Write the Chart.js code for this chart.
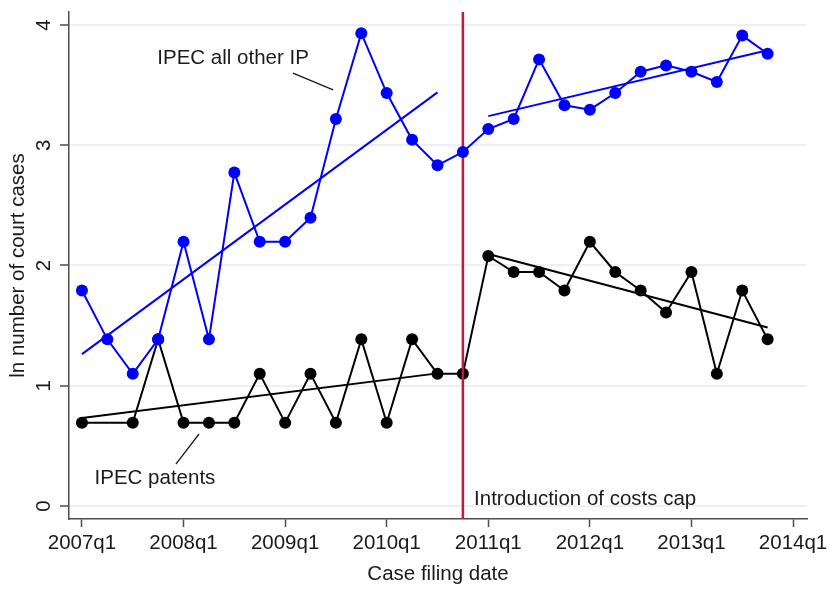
<!DOCTYPE html>
<html>
<head>
<meta charset="utf-8">
<script src="https://cdn.jsdelivr.net/npm/chart.js@4"></script>
<style>
  body { margin: 0; background: #fff; }
  #wrap { width: 832px; height: 589px; }
</style>
</head>
<body>
<div id="wrap"><canvas id="ipecChart" width="832" height="589"></canvas></div>
<script>
// quarters 2007q1 .. 2013q4 (x = 0 .. 27)
const quarters = ["2007q1","2007q2","2007q3","2007q4","2008q1","2008q2","2008q3","2008q4",
  "2009q1","2009q2","2009q3","2009q4","2010q1","2010q2","2010q3","2010q4",
  "2011q1","2011q2","2011q3","2011q4","2012q1","2012q2","2012q3","2012q4",
  "2013q1","2013q2","2013q3","2013q4"];
const tickLabels = ["2007q1","2008q1","2009q1","2010q1","2011q1","2012q1","2013q1","2014q1"];
const tickPositions = [0, 4, 8, 12, 16, 20, 24, 28];
const yTicks = [0, 1, 2, 3, 4];

// ln number of court cases
const otherIP = [1.792, 1.386, 1.099, 1.386, 2.197, 1.386, 2.773, 2.197, 2.197, 2.398, 3.219, 3.932, 3.434, 3.045,
  2.833, 2.944, 3.135, 3.219, 3.714, 3.332, 3.296, 3.434, 3.611, 3.664, 3.611, 3.526, 3.912, 3.761];
const patents = [0.693, null, 0.693, 1.386, 0.693, 0.693, 0.693, 1.099, 0.693, 1.099, 0.693, 1.386, 0.693, 1.386,
  1.099, 1.099, 2.079, 1.946, 1.946, 1.792, 2.197, 1.946, 1.792, 1.609, 1.946, 1.099, 1.792, 1.386];

// fitted lines (start/end quarter index and value)
const fitPreX = [0, 14];
const fitPostX = [16, 27];
const fitOtherPre = [1.263, 3.44];
const fitOtherPost = [3.242, 3.79];
const fitPatentsPre = [0.731, 1.103];
const fitPatentsPost = [2.095, 1.485];

const capQuarter = 15; // 2010q4
const yMin = -0.108, yMax = 4.108;

const font = "'Liberation Sans', Arial, sans-serif";
const fontSize = 20.5;

const toPoints = (xs, ys) => xs.map((x, i) => ({ x: x, y: ys[i] }));
const series = ys => ys.map((y, i) => ({ x: i, y: y }));

// text labels drawn in data coordinates
const notes = {
  id: "notes",
  afterDatasetsDraw(chart) {
    const c = chart.ctx, xs = chart.scales.x, ys = chart.scales.y;
    const px = v => xs.getPixelForValue(v), py = v => ys.getPixelForValue(v);
    c.save();
    c.fillStyle = "#1a1a1a";
    c.font = fontSize + "px " + font;
    c.textBaseline = "middle";
    c.textAlign = "center";
    c.fillText("IPEC all other IP", px(5.95), py(3.72));
    c.fillText("IPEC patents", px(2.875), py(0.233));
    c.textAlign = "left";
    c.fillText("Introduction of costs cap", px(15.44), py(0.058));
    c.strokeStyle = "#1a1a1a";
    c.lineWidth = 1.3;
    c.beginPath();
    c.moveTo(px(8.31), py(3.60)); c.lineTo(px(9.89), py(3.46));
    c.moveTo(px(3.70), py(0.349)); c.lineTo(px(4.61), py(0.599));
    c.stroke();
    c.restore();
  }
};

const ctx = document.getElementById("ipecChart").getContext("2d");
new Chart(ctx, {
  type: "line",
  data: {
    datasets: [
      {
        data: series(otherIP),
        borderColor: "#0000ff", backgroundColor: "#0000ff",
        borderWidth: 2, pointRadius: 6, pointBorderWidth: 0, order: 1
      },
      {
        data: toPoints([capQuarter, capQuarter], [yMin, yMax]),
        borderColor: "#c8163f", borderWidth: 2.5, pointRadius: 0, order: 2
      },
      {
        data: series(patents), spanGaps: true,
        borderColor: "#000000", backgroundColor: "#000000",
        borderWidth: 2, pointRadius: 6, pointBorderWidth: 0, order: 3
      },
      { data: toPoints(fitPreX, fitOtherPre), borderColor: "#0000ff", borderWidth: 2, pointRadius: 0, order: 4 },
      { data: toPoints(fitPostX, fitOtherPost), borderColor: "#0000ff", borderWidth: 2, pointRadius: 0, order: 4 },
      { data: toPoints(fitPreX, fitPatentsPre), borderColor: "#000000", borderWidth: 2, pointRadius: 0, order: 4 },
      { data: toPoints(fitPostX, fitPatentsPost), borderColor: "#000000", borderWidth: 2, pointRadius: 0, order: 4 }
    ]
  },
  options: {
    responsive: false,
    animation: false,
    layout: { padding: { left: 0, right: 25, top: 12, bottom: 0 } },
    plugins: { legend: { display: false }, tooltip: { enabled: false } },
    scales: {
      x: {
        type: "linear",
        min: -0.51, max: 28.55,
        afterBuildTicks: s => { s.ticks = tickPositions.map(v => ({ value: v })); },
        afterFit: s => { s.height = 70; s.paddingLeft = 0; s.paddingRight = 0; },
        grid: { drawOnChartArea: false, tickLength: 8, tickColor: "#4d4d4d", tickWidth: 1.5 },
        border: { color: "#4d4d4d", width: 1.5 },
        ticks: {
          color: "#1a1a1a", padding: 4, maxRotation: 0, autoSkip: false,
          font: { family: font, size: fontSize },
          callback: v => tickLabels[tickPositions.indexOf(v)]
        },
        title: {
          display: true, text: "Case filing date", color: "#1a1a1a",
          font: { family: font, size: fontSize }, padding: { top: 0, bottom: 2 }
        }
      },
      y: {
        min: yMin, max: yMax,
        afterBuildTicks: s => { s.ticks = yTicks.map(v => ({ value: v })); },
        afterFit: s => { s.width = 69; s.paddingTop = 0; s.paddingBottom = 0; },
        grid: { color: "#eaf0f3", lineWidth: 2, tickLength: 9, tickColor: "#4d4d4d", tickWidth: 1.5 },
        border: { color: "#4d4d4d", width: 1.5 },
        ticks: {
          color: "#1a1a1a", padding: 10, minRotation: 90, maxRotation: 90, crossAlign: "center",
          font: { family: font, size: fontSize }
        },
        title: {
          display: true, text: "ln number of court cases", color: "#1a1a1a",
          font: { family: font, size: fontSize }, padding: { top: 6, bottom: 0 }
        }
      }
    }
  },
  plugins: [notes]
});
</script>
</body>
</html>
